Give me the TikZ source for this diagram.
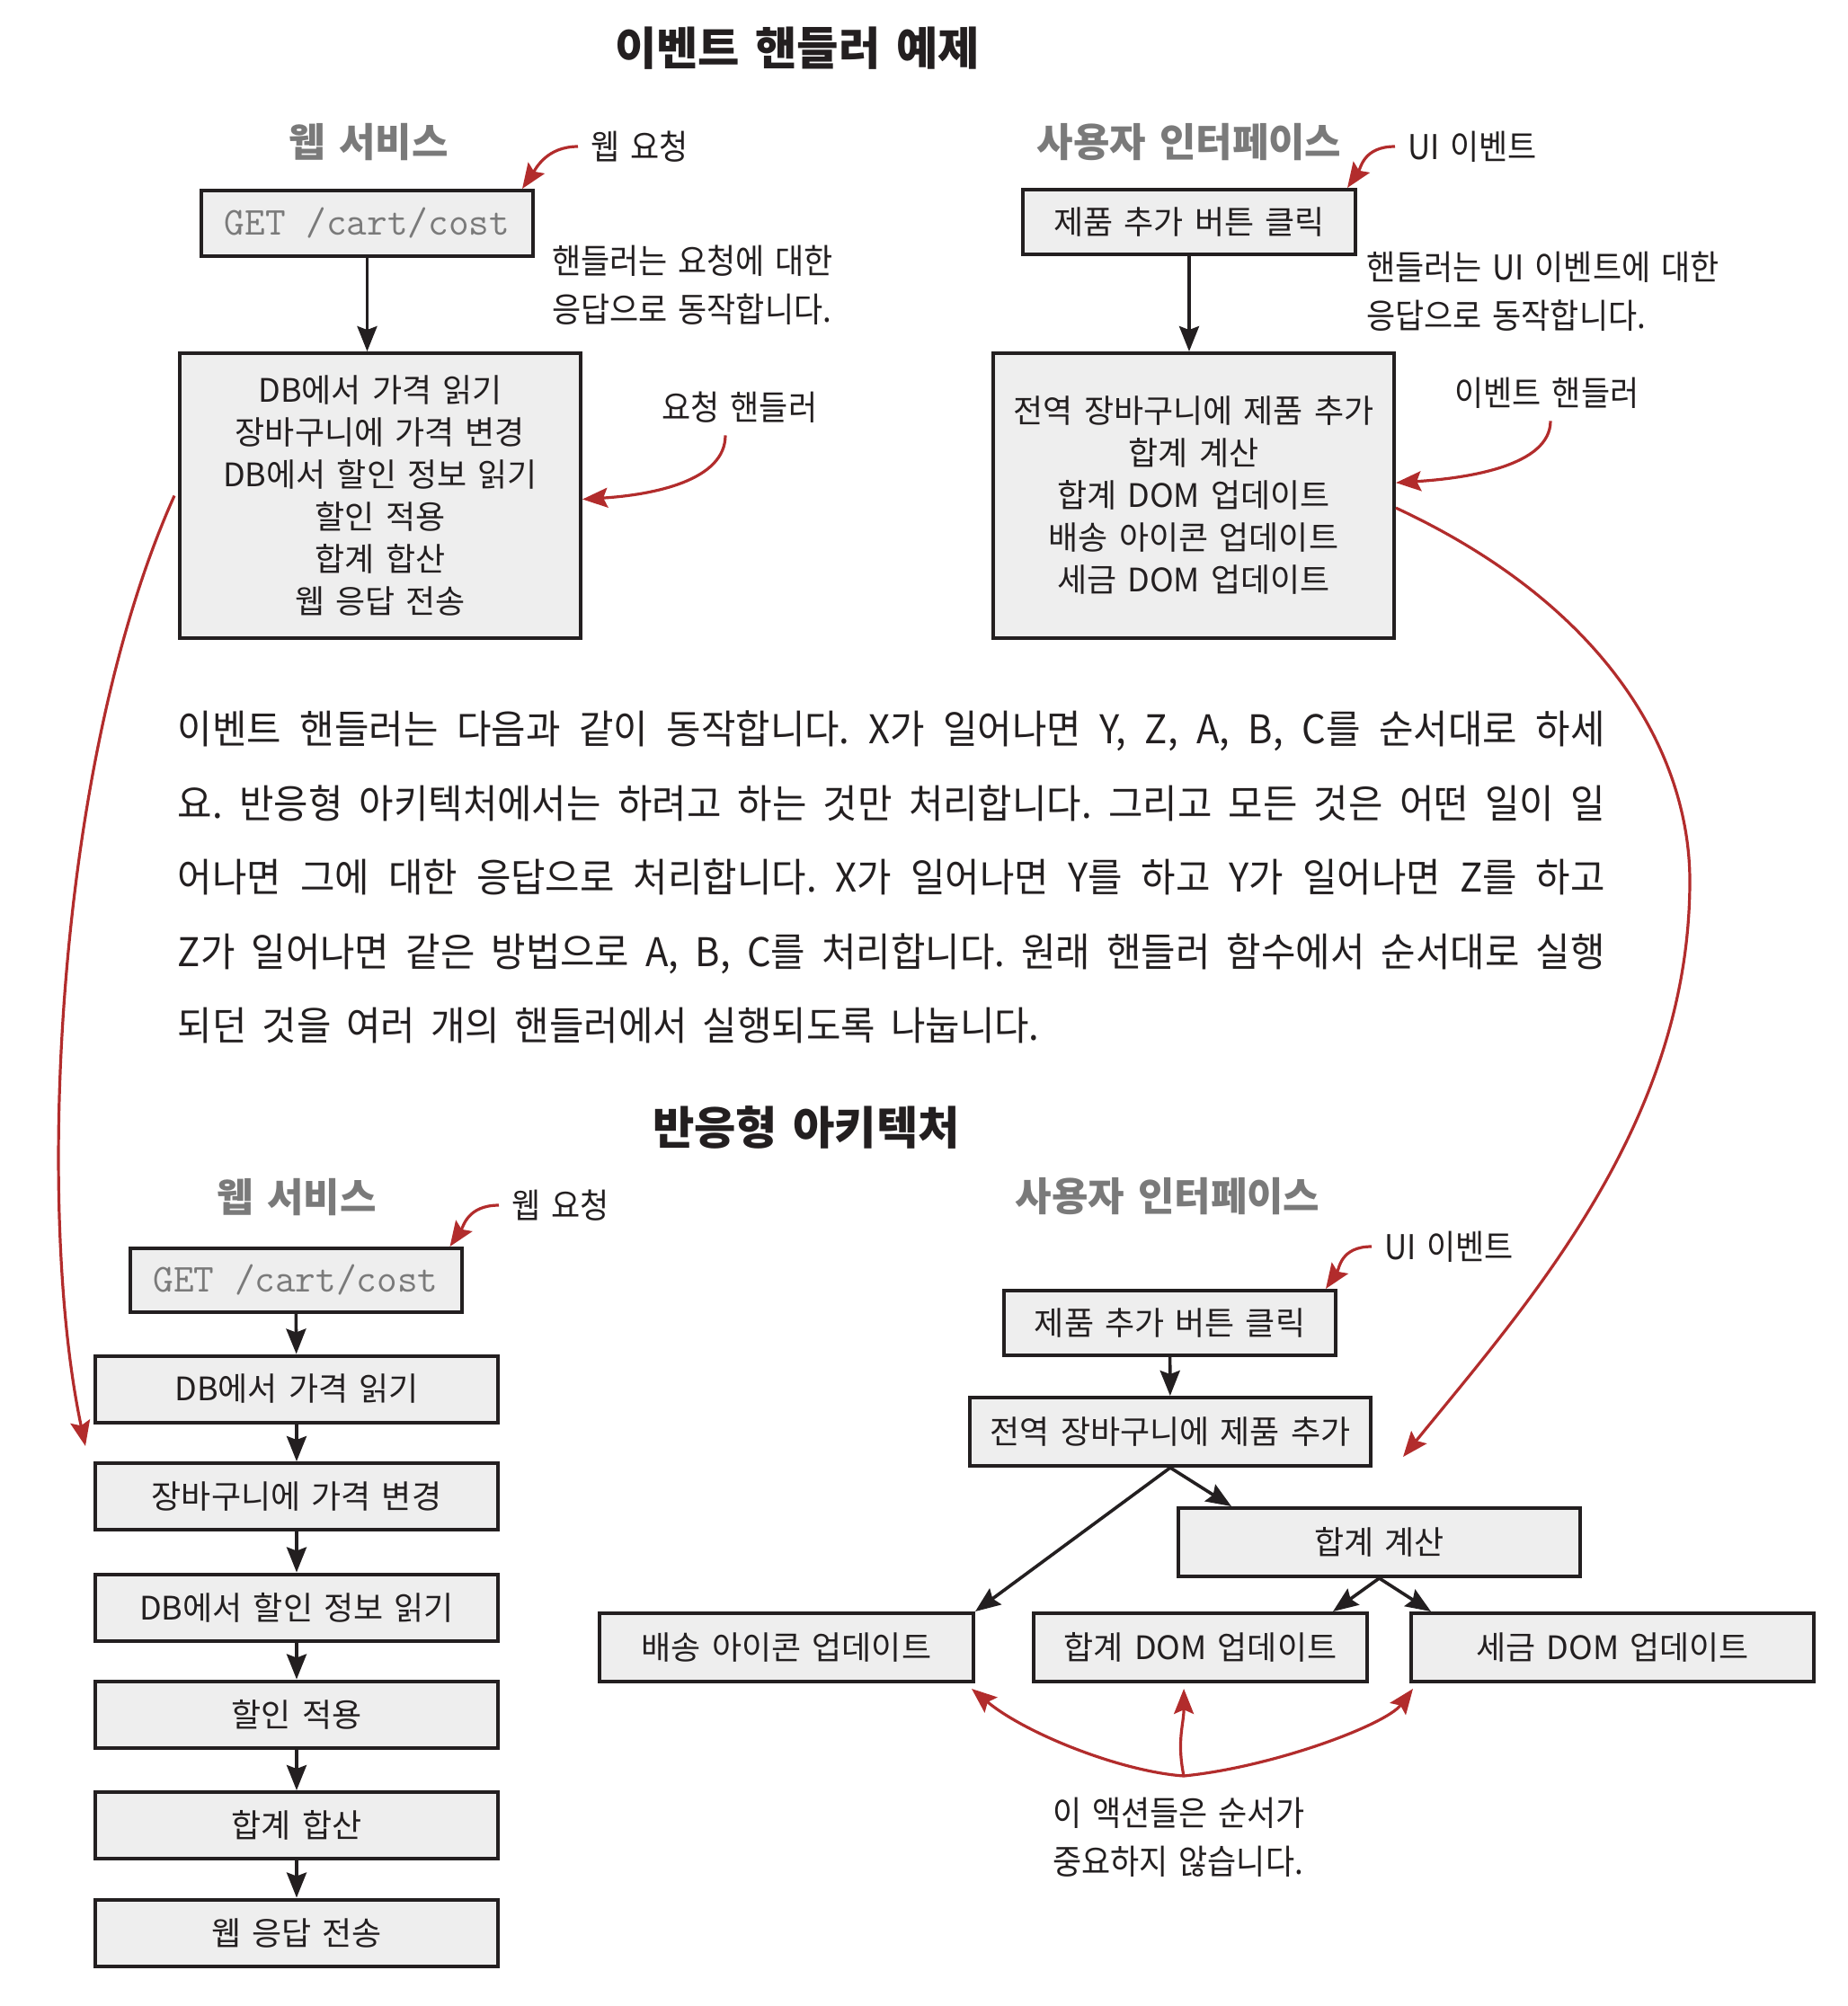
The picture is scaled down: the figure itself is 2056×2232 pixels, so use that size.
\documentclass[tikz,border=0pt]{standalone}
\usepackage{fontspec}
\setmainfont{Noto Sans CJK KR}[WordSpace=1.5]
\newfontfamily\parafont{Noto Sans CJK KR}[FakeStretch=0.95, WordSpace=1.8]
\newfontfamily\lblfont{Noto Sans CJK KR}[FakeStretch=0.92, WordSpace=1.5]
\usetikzlibrary{arrows.meta}
\definecolor{boxgray}{RGB}{238,238,238}
\definecolor{arrowred}{RGB}{178,44,44}
\definecolor{headgray}{RGB}{122,122,122}
\definecolor{inkblack}{RGB}{35,31,32}
\frenchspacing
\begin{document}
\begin{tikzpicture}[x=0.25pt, y=-0.25pt, text=inkblack,
  hdr/.style={font=\fontsize{12.6pt}{15pt}\selectfont\bfseries},
  sub/.style={font=\fontsize{11pt}{13pt}\selectfont\bfseries, text=headgray},
  lbl/.style={font=\lblfont\fontsize{9.5pt}{13.5pt}\selectfont},
  box/.style={draw=inkblack, line width=1pt, fill=boxgray, inner sep=0pt, align=center, font=\fontsize{9pt}{11.75pt}\selectfont},
  getbox/.style={box, font=\fontsize{11pt}{13pt}\ttfamily, text=headgray},
  flow/.style={-{Stealth[length=7pt,width=5.5pt,inset=1pt]}, line width=0.9pt, inkblack},
  redarrow/.style={-{Stealth[length=7pt,width=5.5pt,inset=1.2pt]}, line width=0.8pt, arrowred}]
  \useasboundingbox (0,0) rectangle (2056,2232);

  \node[hdr] (T1) at (887,54) {이벤트 핸들러 예제};

  \node[sub] (AH) at (410,158) {웹 서비스};
  \node[getbox, minimum width=92.25pt, minimum height=18.25pt] (A1) at (408.5,248.5) {GET /cart/cost};
  \node[box, minimum width=111.5pt, minimum height=79.25pt] (A2) at (423,551.5) {DB에서 가격 읽기\\장바구니에 가격 변경\\DB에서 할인 정보 읽기\\할인 적용\\합계 합산\\웹 응답 전송};
  \node[lbl, anchor=west] (AL) at (643,163) {웹 요청};
  \node[lbl, anchor=west, align=left] (AN) at (600,317) {핸들러는 요청에 대한\\응답으로 동작합니다.};
  \node[lbl] (AE) at (823,453) {요청 핸들러};
  \coordinate (AT) at (95,1609);

  \draw[flow] (A1.south) -- (A1.south |- A2.north);
  \draw[redarrow] (AL.west) .. controls +(-35,0) and +(15,-22) .. ([xshift=-3.5pt]A1.north east);
  \draw[redarrow] ([xshift=-4pt]AE.south) .. controls +(0,50) and +(80,-5) .. ([yshift=-1pt]A2.east);
  \draw[redarrow] ([xshift=-1pt]A2.west) .. controls (60,850) and (40,1350) .. (AT);

  \node[sub] (BH) at (1323,158) {사용자 인터페이스};
  \node[box, minimum width=92.5pt, minimum height=18pt] (B1) at (1323,247) {제품 추가 버튼 클릭};
  \node[box, minimum width=111.5pt, minimum height=79.25pt] (B2) at (1328,551.5) {전역 장바구니에 제품 추가\\합계 계산\\합계 DOM 업데이트\\배송 아이콘 업데이트\\세금 DOM 업데이트};
  \node[lbl, anchor=west] (BL) at (1552,163) {UI 이벤트};
  \node[lbl, anchor=west, align=left] (BN) at (1506,324.5) {핸들러는 UI 이벤트에 대한\\응답으로 동작합니다.};
  \node[lbl] (BE) at (1721,437) {이벤트 핸들러};
  \coordinate (BT) at (1561,1621);

  \draw[flow] (B1.south) -- (B1.south |- B2.north);
  \draw[redarrow] (BL.west) .. controls +(-35,0) and +(15,-22) .. ([xshift=-2.75pt]B1.north east);
  \draw[redarrow] ([xshift=1pt]BE.south) .. controls +(0,50) and +(80,-5) .. ([yshift=3.6pt]B2.east);
  \draw[redarrow] ([yshift=-3.4pt]B2.east) .. controls (1800,680) and (1880,850) .. (1880,980) .. controls (1880,1250) and (1700,1450) .. (BT);

  \node[anchor=west, align=left, inner sep=0pt, font=\parafont\fontsize{11pt}{20.625pt}\selectfont] (P) at (197,976) {%
    \makebox[397pt][s]{이벤트 핸들러는 다음과 같이 동작합니다. X가 일어나면 Y, Z, A, B, C를 순서대로 하세}\\
    \makebox[397pt][s]{요. 반응형 아키텍처에서는 하려고 하는 것만 처리합니다. 그리고 모든 것은 어떤 일이 일}\\
    \makebox[397pt][s]{어나면 그에 대한 응답으로 처리합니다. X가 일어나면 Y를 하고 Y가 일어나면 Z를 하고}\\
    \makebox[397pt][s]{Z가 일어나면 같은 방법으로 A, B, C를 처리합니다. 원래 핸들러 함수에서 순서대로 실행}\\
    되던 것을 여러 개의 핸들러에서 실행되도록 나눕니다.};

  \node[hdr] (T2) at (897,1254) {반응형 아키텍처};

  \node[sub] (CH) at (330,1332) {웹 서비스};
  \node[lbl, anchor=west] (CL) at (555,1341) {웹 요청};
  \node[getbox, minimum width=92.25pt, minimum height=17.75pt] (C0) at (329,1424.5) {GET /cart/cost};
  \node[box, minimum width=112pt, minimum height=18.5pt] (C1) at (330,1545.5) {DB에서 가격 읽기};
  \node[box, minimum width=112pt, minimum height=18.5pt] (C2) at (330,1665) {장바구니에 가격 변경};
  \node[box, minimum width=112pt, minimum height=18.5pt] (C3) at (330,1788.5) {DB에서 할인 정보 읽기};
  \node[box, minimum width=112pt, minimum height=18.5pt] (C4) at (330,1907.5) {할인 적용};
  \node[box, minimum width=112pt, minimum height=18.5pt] (C5) at (330,2031) {합계 합산};
  \node[box, minimum width=112pt, minimum height=18.5pt] (C6) at (330,2150.5) {웹 응답 전송};

  \draw[redarrow] (CL.west) .. controls +(-35,0) and +(15,-22) .. ([xshift=-3.75pt]C0.north east);
  \draw[flow] (C0) -- (C1);
  \draw[flow] (C1) -- (C2);
  \draw[flow] (C2) -- (C3);
  \draw[flow] (C3) -- (C4);
  \draw[flow] (C4) -- (C5);
  \draw[flow] (C5) -- (C6);

  \node[sub] (DH) at (1299,1331) {사용자 인터페이스};
  \node[lbl, anchor=west] (DL) at (1526,1387) {UI 이벤트};
  \node[box, minimum width=92.25pt, minimum height=18pt] (D1) at (1301.5,1472) {제품 추가 버튼 클릭};
  \node[box, minimum width=111.5pt, minimum height=19pt] (D2) at (1302,1593) {전역 장바구니에 제품 추가};
  \node[box, minimum width=111.75pt, minimum height=19pt] (D3) at (1534.5,1716) {합계 계산};
  \node[box, minimum width=104pt, minimum height=19pt] (D4) at (875,1833) {배송 아이콘 업데이트};
  \node[box, minimum width=92.75pt, minimum height=19pt] (D5) at (1335.5,1833) {합계 DOM 업데이트};
  \node[box, minimum width=112pt, minimum height=19pt] (D6) at (1794,1833) {세금 DOM 업데이트};
  \node[lbl, anchor=west, align=left] (DN) at (1157,2044) {이 액션들은 순서가\\중요하지 않습니다.};
  \coordinate (DO) at (1317,1976);

  \draw[redarrow] (DL.west) .. controls +(-35,0) and +(15,-22) .. ([xshift=-3.25pt]D1.north east);
  \draw[flow] (D1) -- (D2);
  \draw[flow] (D2.south) -- (D4.north east);
  \draw[flow] (D2.south) -- ([xshift=15.25pt]D3.north west);
  \draw[flow] (D3.south) -- ([xshift=-10pt]D5.north east);
  \draw[flow] (D3.south) -- ([xshift=6pt]D6.north west);
  \draw[redarrow] (DO) .. controls +(-70,-5) and +(60,50) .. ([shift={(-1pt,-1.5pt)}]D4.south east);
  \draw[redarrow] (DO) .. controls +(-8,-40) and +(0,40) .. ([shift={(-4.6pt,-1.5pt)}]D5.south);
  \draw[redarrow] (DO) .. controls +(100,-10) and +(-30,40) .. ([shift={(1pt,-1.5pt)}]D6.south west);
\end{tikzpicture}
\end{document}
